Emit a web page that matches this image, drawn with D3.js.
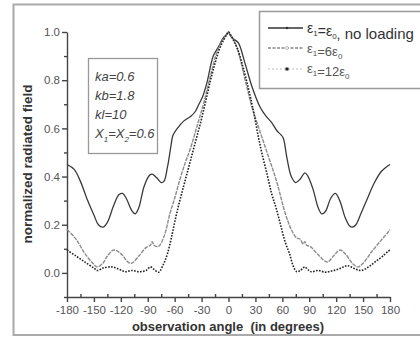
<!DOCTYPE html>
<meta charset="utf-8">
<style>
body { margin: 0; background: #fff; }
svg text { font-family: Arial, "Liberation Sans", sans-serif; }
.tick text { fill: #555; font-size: 11.5px; }
.axis path, .axis line { stroke: #444; stroke-width: 1.4; }
</style>
<svg id="chart" width="420" height="337"></svg>
<script src="https://d3js.org/d3.v7.min.js"></script>
<script>

// eps1 = eps0, no loading
var angleNoLoad = [-180,-172,-165,-158,-150,-145,-140,-135,-128,-122,-118,-114,-108,-104,-100,-94,-88,-85,-80,-75,-72,-68,-64,-62,-57,-50,-42,-37,-33,-29,-24,-17,-11,-6,-2,0,
                   2,6,11,18,26,35,42,48,54,58,61,65,70,75,80,85,88,94,100,104,108,114,119,124,130,135,138,142,148,155,162,170,176,180];
var fieldNoLoad = [0.45,0.43,0.38,0.31,0.24,0.20,0.19,0.21,0.28,0.325,0.33,0.31,0.26,0.245,0.27,0.36,0.405,0.41,0.395,0.375,0.38,0.44,0.53,0.57,0.60,0.63,0.65,0.67,0.70,0.73,0.79,0.90,0.94,0.975,0.99,1.0,
                   0.985,0.97,0.955,0.875,0.775,0.69,0.65,0.625,0.59,0.575,0.56,0.48,0.40,0.375,0.39,0.415,0.405,0.35,0.27,0.245,0.255,0.31,0.33,0.30,0.23,0.195,0.19,0.20,0.25,0.31,0.37,0.42,0.44,0.45];

// eps1 = 6 eps0
var angle6 = [-180,-170,-160,-150,-146,-140,-135,-128,-120,-112,-108,-100,-92,-87,-85,-83,-78,-72,-65,-60,-54,-48,-43,-35,-28,-20,-13,-6,-2,0,
              2,6,10,18,26,33,43,54,63,70,76,80,83,85,87,91,100,110,117,124,130,138,144,150,160,170,178,180];
var field6 = [0.18,0.14,0.08,0.035,0.025,0.04,0.07,0.095,0.08,0.045,0.04,0.07,0.105,0.115,0.13,0.115,0.11,0.15,0.25,0.31,0.39,0.46,0.51,0.61,0.70,0.82,0.915,0.97,0.99,1.0,
              0.99,0.965,0.93,0.81,0.69,0.61,0.50,0.375,0.25,0.18,0.145,0.14,0.12,0.13,0.115,0.11,0.075,0.045,0.07,0.095,0.08,0.04,0.025,0.04,0.09,0.135,0.17,0.18];

// eps1 = 12 eps0
var angle12 = [-180,-170,-160,-150,-146,-140,-130,-122,-115,-108,-100,-92,-87,-83,-78,-72,-68,-64,-60,-55,-50,-45,-40,-35,-30,-25,-20,-15,-10,-5,-2,0,
               2,5,10,15,20,25,29,33,37,43,48,53,58,63,68,72,76,80,85,88,92,100,108,115,122,128,132,137,142,147,152,158,165,172,178,180];
var field12 = [0.095,0.07,0.045,0.02,0.01,0.02,0.025,0.015,0.005,0.01,0.005,0.01,0.025,0.015,0.003,0.04,0.08,0.14,0.21,0.29,0.36,0.43,0.50,0.57,0.64,0.72,0.80,0.87,0.93,0.97,0.99,1.0,
               0.99,0.97,0.93,0.87,0.80,0.72,0.65,0.57,0.50,0.41,0.33,0.27,0.20,0.13,0.08,0.03,0.005,0.01,0.025,0.015,0.005,0.01,0.003,0.008,0.015,0.025,0.03,0.025,0.015,0.01,0.015,0.03,0.05,0.07,0.09,0.095];

var xTicks = [-180,-150,-120,-90,-60,-30,0,30,60,90,120,150,180];
var xMinor = [-165,-135,-105,-75,-45,-15,15,45,75,105,135,165];
var yTicks = [0.0,0.2,0.4,0.6,0.8,1.0];
var yMinor = [-0.1,0.1,0.3,0.5,0.7,0.9];

var params = ["ka=0.6","kb=1.8","kl=10"];

var svg = d3.select("#chart");

var x = d3.scaleLinear().domain([-180, 180]).range([67, 390]);
var y = d3.scaleLinear().domain([-0.1, 1.0]).range([297, 32]);

// outer frame
svg.append("rect")
    .attr("x", 13.5).attr("y", 4.5)
    .attr("width", 420).attr("height", 330.5)
    .attr("fill", "none").attr("stroke", "#aaa").attr("stroke-width", 2);

// axes
svg.append("g").attr("class", "axis")
    .attr("transform", "translate(0,297)")
    .call(d3.axisBottom(x).tickValues(xTicks).tickSize(5).tickSizeOuter(0).tickPadding(4)
      .tickFormat(function(d) { return String(d); }));
svg.append("g").attr("class", "axis")
    .attr("transform", "translate(0,297)")
    .call(d3.axisBottom(x).tickValues(xMinor).tickSize(-3).tickFormat(""))
    .select(".domain").remove();
svg.append("g").attr("class", "axis")
    .attr("transform", "translate(67,0)")
    .call(d3.axisLeft(y).tickValues(yTicks).tickSize(5).tickSizeOuter(0).tickPadding(2)
      .tickFormat(function(d) { return d.toFixed(1); }));
svg.append("g").attr("class", "axis")
    .attr("transform", "translate(67,0)")
    .call(d3.axisLeft(y).tickValues(yMinor).tickSize(3).tickFormat(""))
    .select(".domain").remove();

svg.selectAll(".tick text").attr("fill", "#555");

// curves
var line = d3.line()
    .x(function(d) { return x(d[0]); })
    .y(function(d) { return y(d[1]); })
    .curve(d3.curveCatmullRom.alpha(0.5));

svg.append("path")
    .attr("d", line(d3.zip(angleNoLoad, fieldNoLoad)))
    .attr("fill", "none").attr("stroke", "#3a3a3a").attr("stroke-width", 1.3);

svg.append("path")
    .attr("d", line(d3.zip(angle6, field6)))
    .attr("fill", "none").attr("stroke", "#8c8c8c").attr("stroke-width", 1.4)
    .attr("stroke-dasharray", "4,1");

svg.append("path")
    .attr("d", line(d3.zip(angle12, field12)))
    .attr("fill", "none").attr("stroke", "#222").attr("stroke-width", 1.6)
    .attr("stroke-dasharray", "1.6,1.4");

// axis titles
svg.append("text")
    .attr("transform", "translate(32,164) rotate(-90)")
    .attr("text-anchor", "middle")
    .attr("font-size", "13.5px").attr("font-weight", "bold").attr("fill", "#333")
    .text("normalized radiated field");

svg.append("text")
    .attr("x", 228).attr("y", 331)
    .attr("text-anchor", "middle")
    .attr("font-size", "13px").attr("font-weight", "bold").attr("fill", "#333")
    .attr("xml:space", "preserve")
    .text("observation angle  (in degrees)");

// parameter box
svg.append("rect")
    .attr("x", 88.5).attr("y", 58.5).attr("width", 69).attr("height", 95)
    .attr("fill", "#fff").attr("stroke", "#999").attr("stroke-width", 1.3);

svg.selectAll(".param").data(params).enter().append("text")
    .attr("class", "param")
    .attr("x", 95).attr("y", function(d, i) { return 81 + i * 19; })
    .attr("font-size", "13px").attr("font-style", "italic").attr("fill", "#444")
    .text(function(d) { return d; });

var xt = svg.append("text")
    .attr("x", 95).attr("y", 138)
    .attr("font-size", "13px").attr("font-style", "italic").attr("fill", "#444");
xt.append("tspan").text("X");
xt.append("tspan").attr("dy", 4).attr("font-size", "8px").text("1");
xt.append("tspan").attr("dy", -4).text("=X");
xt.append("tspan").attr("dy", 4).attr("font-size", "8px").text("2");
xt.append("tspan").attr("dy", -4).text("=0.6");

// legend
svg.append("rect")
    .attr("x", 259.5).attr("y", 11.5).attr("width", 200).attr("height", 77)
    .attr("fill", "#fff").attr("stroke", "#999").attr("stroke-width", 1.5);

var legendY = [28, 48, 69];

svg.append("line").attr("x1", 268).attr("x2", 303).attr("y1", legendY[0]).attr("y2", legendY[0])
    .attr("stroke", "#333").attr("stroke-width", 1.3);
svg.append("circle").attr("cx", 287).attr("cy", legendY[0]).attr("r", 1.3).attr("fill", "#333");

svg.append("line").attr("x1", 268).attr("x2", 303).attr("y1", legendY[1]).attr("y2", legendY[1])
    .attr("stroke", "#888").attr("stroke-width", 1.3).attr("stroke-dasharray", "3,1.5");
svg.append("circle").attr("cx", 287).attr("cy", legendY[1]).attr("r", 1.5)
    .attr("fill", "#fff").attr("stroke", "#aaa").attr("stroke-width", 0.8);

svg.append("line").attr("x1", 268).attr("x2", 303).attr("y1", legendY[2]).attr("y2", legendY[2])
    .attr("stroke", "#bbb").attr("stroke-width", 1).attr("stroke-dasharray", "2,2");
svg.append("rect").attr("x", 285.5).attr("y", legendY[2] - 1.5).attr("width", 3).attr("height", 3).attr("fill", "#222");

function eps(t, sub) {
  t.append("tspan").text("\u03b5");
  t.append("tspan").attr("dy", 3).attr("font-size", "8px").text(sub);
  t.append("tspan").attr("dy", -3).text("");
}

var serif = "'Liberation Serif', 'Times New Roman', serif";

var l1 = svg.append("text").attr("x", 307).attr("y", 33)
    .attr("fill", "#333").attr("font-size", "14px").attr("font-family", serif);
eps(l1, "1"); l1.append("tspan").text("=");
eps(l1, "0"); l1.append("tspan").text(",");
l1.append("tspan").attr("font-family", "Arial, 'Liberation Sans', sans-serif")
    .attr("font-size", "15px").text(" no loading");

var l2 = svg.append("text").attr("x", 307).attr("y", 53)
    .attr("fill", "#555").attr("font-size", "13px").attr("font-family", serif);
eps(l2, "1"); l2.append("tspan").text("=6");
eps(l2, "0");

var l3 = svg.append("text").attr("x", 307).attr("y", 73)
    .attr("fill", "#555").attr("font-size", "13px").attr("font-family", serif);
eps(l3, "1"); l3.append("tspan").text("=12");
eps(l3, "0");

</script>
